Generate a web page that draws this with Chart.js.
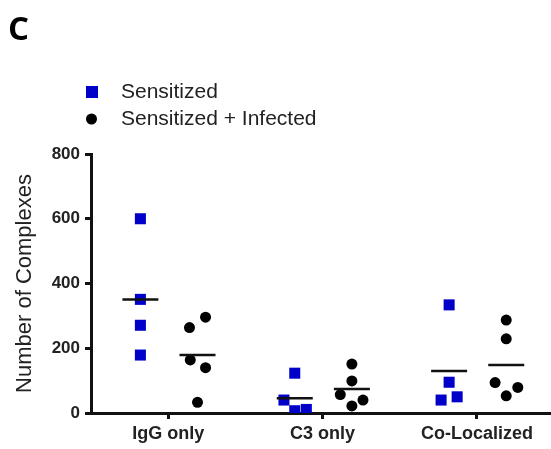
<!DOCTYPE html>
<html>
<head>
<meta charset="utf-8">
<script src="https://cdn.jsdelivr.net/npm/chart.js@4"></script>
<style>
html, body { margin: 0; padding: 0; background: #fff; overflow: hidden; }
canvas { display: block; }
</style>
</head>
<body>
<canvas id="myChart" width="551" height="449"></canvas>
<script>
const categories = ['IgG only', 'C3 only', 'Co-Localized'];
const seriesNames = ['Sensitized', 'Sensitized + Infected'];
const yTicks = [0, 200, 400, 600, 800];

// values, one array per group
const sensitizedIgG = [600, 351, 271, 179];
const sensitizedC3 = [123, 40, 7, 11];
const sensitizedCoLoc = [334, 95, 40, 50];
const infectedIgG = [264, 296, 164, 140, 33];
const infectedC3 = [151, 99, 57, 40, 22];
const infectedCoLoc = [287, 229, 94, 79, 53];

// sideways spread of the dots inside a column (in category units)
const sensitizedJitter = [[0, 0, 0, 0], [0, -0.07, 0, 0.075], [0, 0, -0.052, 0.052]];
const infectedJitter = [[-0.052, 0.052, -0.047, 0.052, 0], [0, 0, -0.075, 0.072, 0], [0, 0, -0.072, 0.075, 0]];

const sensitizedGroups = [sensitizedIgG, sensitizedC3, sensitizedCoLoc];
const infectedGroups = [infectedIgG, infectedC3, infectedCoLoc];

const blue = '#0000c8';
const ink = '#111';
const font = '"Liberation Sans", Arial, sans-serif';

function toPoints(groups, jitter, shift) {
    const pts = [];
    groups.forEach((vals, i) => {
        vals.forEach((v, j) => pts.push({ x: i + 1 + shift + jitter[i][j], y: v }));
    });
    return pts;
}

function toMeans(groups, shift) {
    return groups.map((vals, i) => ({
        x: i + 1 + shift,
        y: vals.reduce((a, b) => a + b, 0) / vals.length
    }));
}

// the panel letter and the stacked legend
const extras = {
    id: 'extras',
    afterDraw(chart) {
        const ctx = chart.ctx;
        ctx.save();
        ctx.fillStyle = '#000';
        ctx.font = 'bold 33px "Open Sans", ' + font;
        ctx.textBaseline = 'alphabetic';
        ctx.fillText('C', 8, 40);

        ctx.font = '21px ' + font;
        ctx.textBaseline = 'middle';
        ctx.fillStyle = blue;
        ctx.fillRect(86, 86, 12, 12);
        ctx.fillStyle = '#000';
        ctx.beginPath();
        ctx.arc(91.5, 119, 5.5, 0, Math.PI * 2);
        ctx.fill();
        ctx.fillStyle = '#222';
        ctx.fillText(seriesNames[0], 121, 92);
        ctx.fillText(seriesNames[1], 121, 119);
        ctx.restore();
    }
};

const data = {
    datasets: [
        {
            label: 'mean ' + seriesNames[0],
            data: toMeans(sensitizedGroups, -0.18),
            pointStyle: 'line',
            pointRadius: 18,
            borderColor: ink,
            pointBorderWidth: 2.5,
            order: 0
        },
        {
            label: 'mean ' + seriesNames[1],
            data: toMeans(infectedGroups, 0.19),
            pointStyle: 'line',
            pointRadius: 18,
            borderColor: ink,
            pointBorderWidth: 2.5,
            order: 0
        },
        {
            label: seriesNames[0],
            data: toPoints(sensitizedGroups, sensitizedJitter, -0.18),
            pointStyle: 'rect',
            pointRadius: 7.8,
            backgroundColor: blue,
            borderColor: blue,
            pointBorderWidth: 0,
            order: 1
        },
        {
            label: seriesNames[1],
            data: toPoints(infectedGroups, infectedJitter, 0.19),
            pointStyle: 'circle',
            pointRadius: 5.5,
            backgroundColor: '#000',
            borderColor: '#000',
            pointBorderWidth: 0,
            order: 1
        }
    ]
};

const config = {
    type: 'scatter',
    data: data,
    options: {
        responsive: false,
        animation: false,
        layout: {
            autoPadding: false,
            padding: { top: 154, left: 12, right: 0, bottom: 0 }
        },
        scales: {
            x: {
                type: 'linear',
                min: 0.5,
                max: 3.48,
                afterFit: (scale) => {
                    scale.height = 36;
                    scale.paddingLeft = 0;
                    scale.paddingRight = 0;
                },
                afterBuildTicks: (scale) => { scale.ticks = categories.map((c, i) => ({ value: i + 1 })); },
                ticks: {
                    callback: (v) => categories[v - 1],
                    color: '#222',
                    padding: 4,
                    font: { size: 18, weight: 'bold', family: font }
                },
                grid: { drawOnChartArea: false, drawTicks: true, tickLength: 6, color: ink, lineWidth: 3 },
                border: { display: true, color: ink, width: 3 }
            },
            y: {
                min: 0,
                max: 800,
                afterFit: (scale) => { scale.width = 79; },
                afterBuildTicks: (scale) => { scale.ticks = yTicks.map(v => ({ value: v })); },
                ticks: {
                    color: '#222',
                    padding: 5,
                    font: { size: 17, weight: 'bold', family: font }
                },
                grid: { drawOnChartArea: false, drawTicks: true, tickLength: 6, color: ink, lineWidth: 3 },
                border: { display: true, color: ink, width: 3 },
                title: {
                    display: true,
                    text: 'Number of Complexes',
                    color: '#222',
                    padding: 0,
                    font: { size: 22, weight: 'normal', family: font }
                }
            }
        },
        plugins: {
            legend: { display: false },
            tooltip: { enabled: false }
        }
    },
    plugins: [extras]
};

const grafico = new Chart(document.getElementById('myChart'), config);
</script>
</body>
</html>
